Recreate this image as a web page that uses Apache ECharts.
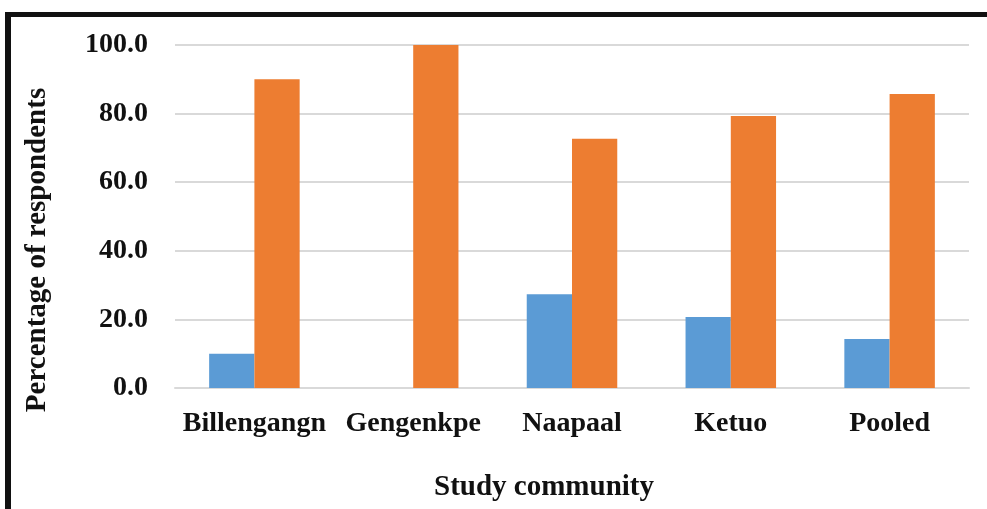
<!DOCTYPE html>
<html>
<head>
<meta charset="utf-8">
<script src="https://cdn.jsdelivr.net/npm/echarts@6/dist/echarts.min.js"></script>
<style>
  html, body { margin: 0; padding: 0; background: #fff; }
  #main { width: 987px; height: 509px; }
</style>
</head>
<body>
<div id="main"></div>
<script>
// 数据
var communities = ["Billengangn", "Gengenkpe", "Naapaal", "Ketuo", "Pooled"];
var seriesA = [10.0, 0.0, 27.3, 20.7, 14.3];
var seriesB = [90.0, 100.0, 72.7, 79.3, 85.7];

var myChart = echarts.init(document.getElementById("main"));
var font = "'Liberation Serif', 'Times New Roman', serif";
var titleStyle = { fontFamily: font, fontWeight: "bold", fontSize: 29, fill: "#111", align: "center", verticalAlign: "middle" };

var option = {
  animation: false,
  backgroundColor: "#fff",
  grid: { left: 175, right: 18, top: 45, bottom: 121 },
  graphic: [
    // 外框（上、左两条黑线）
    { type: "rect", shape: { x: 5, y: 12, width: 990, height: 5 }, style: { fill: "#111" }, silent: true },
    { type: "rect", shape: { x: 5, y: 12, width: 6, height: 520 }, style: { fill: "#111" }, silent: true },
    // 坐标轴标题
    { type: "text", x: 38, y: 250, rotation: Math.PI / 2, style: Object.assign({ text: "Percentage of respondents" }, titleStyle), silent: true },
    { type: "text", x: 544, y: 488, style: Object.assign({ text: "Study community" }, titleStyle), silent: true }
  ],
  xAxis: {
    type: "category",
    data: communities,
    axisLine: { lineStyle: { color: "#d9d9d9", width: 2 } },
    axisTick: { show: false },
    axisLabel: { fontFamily: font, fontWeight: "bold", fontSize: 28, color: "#111", margin: 22, interval: 0 }
  },
  yAxis: {
    type: "value",
    min: 0,
    max: 100,
    interval: 20,
    axisLine: { show: false },
    axisTick: { show: false },
    splitLine: { lineStyle: { color: "#d9d9d9", width: 2 } },
    axisLabel: {
      fontFamily: font, fontWeight: "bold", fontSize: 28, color: "#111", margin: 27,
      formatter: function (v) { return v.toFixed(1); }
    }
  },
  series: [
    {
      name: "A",
      type: "bar",
      data: seriesA,
      barGap: "0%",
      barCategoryGap: "43%",
      itemStyle: { color: "#5b9bd5" }
    },
    {
      name: "B",
      type: "bar",
      data: seriesB,
      itemStyle: { color: "#ed7d31" }
    }
  ]
};
myChart.setOption(option);

window.onresize = function () {
  myChart.resize();
};
</script>
</body>
</html>
